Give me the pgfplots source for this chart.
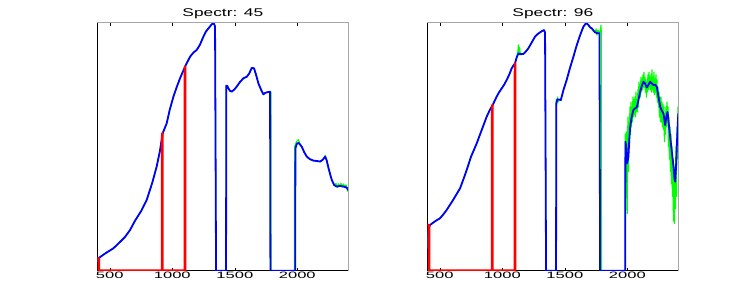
\documentclass[border=0pt]{standalone}
\usepackage{fontspec}
\setmainfont{Liberation Sans}
\usepackage{graphicx}
\usepackage{pgfplots}
\pgfplotsset{compat=1.18}
\newcommand{\tl}[1]{\scalebox{1.78}[1]{#1}}
\newcommand{\ttl}[1]{\scalebox{1.55}[1]{#1}}
\pgfplotsset{specaxis/.style={
  scale only axis, width=251pt, height=248pt,
  xmin=400, xmax=2408, ymin=0, ymax=1,
  axis x line*=bottom, axis y line*=left,
  axis line style={-, black, line width=0.8pt},
  ytick=\empty,
  xtick={500,1000,1500,2000},
  xticklabels={\tl{500},\tl{1000},\tl{1500},\tl{2000}},
  xtick align=inside, major tick length=3pt,
  xtick style={black, line width=0.6pt},
  xticklabel shift=0pt,
  xticklabel style={font=\fontsize{9.3}{10}\selectfont, anchor=base, yshift=-8.3pt, inner sep=0pt},
  every axis title shift=0pt,
  title style={font=\fontsize{11.2}{12}\selectfont, anchor=base, at={(0.5,1)}, yshift=6.4pt, inner sep=0pt},
  every axis plot/.append style={line join=round},
  after end axis/.code={
    \draw[gray!70, line width=1pt] (rel axis cs:0,1) -- (rel axis cs:1,1) -- (rel axis cs:1,0);
    \foreach \t in {500,1000,1500,2000} {\draw[black, line width=0.6pt] (axis cs:\t,1) -- ++(0,-3pt);}
  },
}}
\begin{document}
\begin{tikzpicture}
\path[use as bounding box] (0,0) rectangle (747pt,305pt);
% ---------------- left panel ----------------
\begin{axis}[specaxis, at={(97.3pt,34.3pt)}, anchor=south west, title={\ttl{Spectr: 45}}]
\addplot[green, line width=1.2pt] coordinates {
(400,0.035) (410,0.05) (430,0.058) (480,0.075) (528,0.09) (580,0.115) (620,0.135) (662,0.164) (700,0.2) (750,0.24) (795,0.285) (840,0.355) (875,0.42) (900,0.48) (923,0.554) (955,0.594) (980,0.65) (1008,0.70) (1035,0.74) (1062,0.776) (1102,0.823) (1142,0.863) (1170,0.88) (1195,0.89) (1220,0.91) (1249,0.944) (1270,0.965) (1289,0.977) (1310,0.99) (1323,0.997) (1335,0.995) (1342,0.984) (1346,0.5) (1350,0) (1430,0) (1432,0.746) (1440,0.745) (1449,0.735) (1460,0.726) (1475,0.722) (1495,0.73) (1515,0.742) (1540,0.76) (1569,0.776) (1596,0.782) (1615,0.795) (1636,0.818) (1654,0.816) (1670,0.79) (1689,0.755) (1710,0.73) (1729,0.711) (1740,0.716) (1756,0.719) (1782,0.722) (1789,0.72) (1790,0) (1977,0) (1979,0.5) (1990,0.515) (2000,0.525) (2009,0.528) (2020,0.512) (2036,0.5) (2055,0.478) (2076,0.46) (2100,0.45) (2129,0.444) (2160,0.442) (2183,0.44) (2205,0.448) (2223,0.465) (2235,0.445) (2250,0.413) (2265,0.385) (2276,0.366) (2295,0.345) (2300,0.347) (2310,0.352) (2320,0.336) (2330,0.35) (2340,0.34) (2350,0.352) (2360,0.337) (2370,0.35) (2380,0.338) (2390,0.346) (2400,0.326) (2408,0.318)};
\addplot[blue, line width=1.8pt] coordinates {
(400,0.035) (410,0.05) (430,0.058) (480,0.075) (528,0.09) (580,0.115) (620,0.135) (662,0.164) (700,0.2) (750,0.24) (795,0.285) (840,0.355) (875,0.42) (900,0.48) (923,0.554) (955,0.594) (980,0.65) (1008,0.70) (1035,0.74) (1062,0.776) (1102,0.823) (1142,0.863) (1170,0.88) (1195,0.89) (1220,0.91) (1249,0.944) (1270,0.965) (1289,0.977) (1310,0.99) (1323,0.997) (1335,0.995) (1342,0.984) (1346,0.5) (1350,0) (1430,0) (1432,0.746) (1440,0.745) (1449,0.735) (1460,0.726) (1475,0.722) (1495,0.73) (1515,0.742) (1540,0.76) (1569,0.776) (1596,0.782) (1615,0.795) (1636,0.818) (1654,0.816) (1670,0.79) (1689,0.755) (1710,0.73) (1729,0.711) (1740,0.716) (1756,0.719) (1782,0.722) (1785,0) (1983,0) (1985,0.493) (1995,0.51) (2009,0.516) (2020,0.51) (2036,0.5) (2055,0.478) (2076,0.46) (2100,0.45) (2129,0.444) (2160,0.442) (2183,0.44) (2205,0.448) (2223,0.46) (2235,0.445) (2250,0.413) (2265,0.385) (2276,0.366) (2295,0.345) (2316,0.339) (2340,0.342) (2370,0.339) (2396,0.335) (2408,0.325)};
\addplot[red, line width=2.6pt] coordinates {
(400,0.05) (412,0.05) (413,0) (919,0) (920,0.554) (921,0) (1101,0) (1102,0.823) (1103,0)};
\end{axis}
% ---------------- right panel ----------------
\begin{axis}[specaxis, at={(427.3pt,34.3pt)}, anchor=south west, title={\ttl{Spectr: 96}}]
\addplot[green, line width=1.2pt] coordinates {
(400,0.09) (410,0.17) (421,0.184) (450,0.195) (480,0.205) (501,0.211) (530,0.228) (555,0.245) (600,0.28) (630,0.305) (662,0.332) (690,0.37) (715,0.406) (750,0.46) (795,0.513) (835,0.567) (875,0.621) (900,0.648) (923,0.668) (955,0.702) (975,0.72) (995,0.735) (1015,0.75) (1035,0.769) (1055,0.79) (1075,0.816) (1090,0.828) (1102,0.836) (1115,0.86) (1125,0.885) (1129,0.91) (1133,0.87) (1137,0.9) (1145,0.873) (1169,0.874) (1190,0.885) (1209,0.897) (1235,0.92) (1262,0.944) (1285,0.955) (1302,0.961) (1320,0.967) (1334,0.97) (1342,0.96) (1346,0.5) (1350,0) (1430,0) (1432,0.69) (1436,0.67) (1441,0.7) (1447,0.68) (1455,0.69) (1468,0.688) (1490,0.73) (1515,0.769) (1540,0.815) (1569,0.863) (1590,0.9) (1609,0.93) (1630,0.96) (1649,0.984) (1665,0.995) (1676,0.997) (1690,0.99) (1705,0.98) (1716,0.977) (1730,0.968) (1742,0.961) (1750,0.975) (1757,0.95) (1765,0.97) (1777,0.957) (1785,0.97) (1790,0.99) (1792,0.94) (1793,0) (1983,0) (1984,0.55) (1988,0.47) (1992,0.56) (1996,0.3) (1999,0.23) (2002,0.45) (2005,0.62) (2009,0.4) (2013,0.6) (2017,0.5) (2021,0.66) (2025,0.55) (2029,0.68) (2033,0.58) (2037,0.66) (2041,0.6) (2045,0.7) (2049,0.62) (2053,0.69) (2057,0.63) (2061,0.7) (2065,0.62) (2069,0.72) (2073,0.64) (2077,0.69) (2081,0.64) (2085,0.73) (2089,0.66) (2093,0.76) (2097,0.7) (2101,0.75) (2105,0.7) (2109,0.78) (2113,0.72) (2117,0.77) (2121,0.73) (2125,0.79) (2129,0.74) (2133,0.8) (2137,0.74) (2141,0.78) (2145,0.72) (2149,0.77) (2153,0.7) (2157,0.76) (2161,0.72) (2165,0.79) (2169,0.73) (2173,0.8) (2177,0.74) (2181,0.78) (2185,0.73) (2189,0.79) (2193,0.72) (2197,0.81) (2201,0.73) (2205,0.78) (2209,0.72) (2213,0.8) (2217,0.71) (2221,0.77) (2225,0.72) (2229,0.79) (2233,0.7) (2237,0.77) (2241,0.68) (2245,0.74) (2249,0.66) (2253,0.72) (2257,0.62) (2261,0.7) (2265,0.6) (2269,0.7) (2273,0.6) (2277,0.68) (2281,0.58) (2285,0.67) (2289,0.57) (2293,0.66) (2297,0.52) (2301,0.63) (2305,0.55) (2309,0.66) (2313,0.58) (2317,0.68) (2321,0.6) (2325,0.66) (2329,0.5) (2333,0.62) (2337,0.45) (2341,0.58) (2345,0.4) (2349,0.55) (2353,0.35) (2357,0.5) (2361,0.3) (2365,0.45) (2369,0.2) (2373,0.42) (2377,0.19) (2381,0.4) (2385,0.25) (2389,0.5) (2393,0.3) (2397,0.58) (2401,0.45) (2405,0.66) (2408,0.6)};
\addplot[blue, line width=1.8pt] coordinates {
(400,0.09) (410,0.17) (421,0.184) (450,0.195) (480,0.205) (501,0.211) (530,0.228) (555,0.245) (600,0.28) (630,0.305) (662,0.332) (690,0.37) (715,0.406) (750,0.46) (795,0.513) (835,0.567) (875,0.621) (900,0.648) (923,0.668) (955,0.702) (975,0.72) (995,0.735) (1015,0.75) (1035,0.769) (1055,0.79) (1075,0.816) (1090,0.828) (1102,0.836) (1115,0.86) (1129,0.876) (1145,0.873) (1169,0.874) (1190,0.885) (1209,0.897) (1235,0.92) (1262,0.944) (1285,0.955) (1302,0.961) (1320,0.967) (1334,0.97) (1342,0.96) (1346,0.5) (1350,0) (1430,0) (1432,0.675) (1441,0.691) (1455,0.69) (1468,0.688) (1490,0.73) (1515,0.769) (1540,0.815) (1569,0.863) (1590,0.9) (1609,0.93) (1630,0.96) (1649,0.984) (1665,0.995) (1676,0.997) (1690,0.99) (1705,0.98) (1716,0.977) (1730,0.968) (1742,0.961) (1760,0.958) (1777,0.957) (1780,0.5) (1782,0) (1983,0) (1985,0.52) (1992,0.5) (1996,0.433) (2002,0.44) (2009,0.46) (2016,0.53) (2023,0.58) (2035,0.62) (2049,0.648) (2063,0.655) (2076,0.659) (2090,0.69) (2103,0.722) (2116,0.745) (2129,0.762) (2142,0.755) (2156,0.739) (2170,0.75) (2183,0.762) (2196,0.755) (2209,0.749) (2222,0.75) (2236,0.742) (2250,0.7) (2263,0.661) (2276,0.645) (2289,0.634) (2303,0.587) (2312,0.62) (2322,0.64) (2332,0.59) (2343,0.54) (2356,0.48) (2370,0.419) (2378,0.37) (2383,0.359) (2390,0.42) (2396,0.5) (2402,0.57) (2408,0.634)};
\addplot[red, line width=2.6pt] coordinates {
(400,0.184) (414,0.184) (415,0) (919,0) (920,0.668) (921,0) (1101,0) (1102,0.836) (1103,0)};
\end{axis}
\end{tikzpicture}
\end{document}
